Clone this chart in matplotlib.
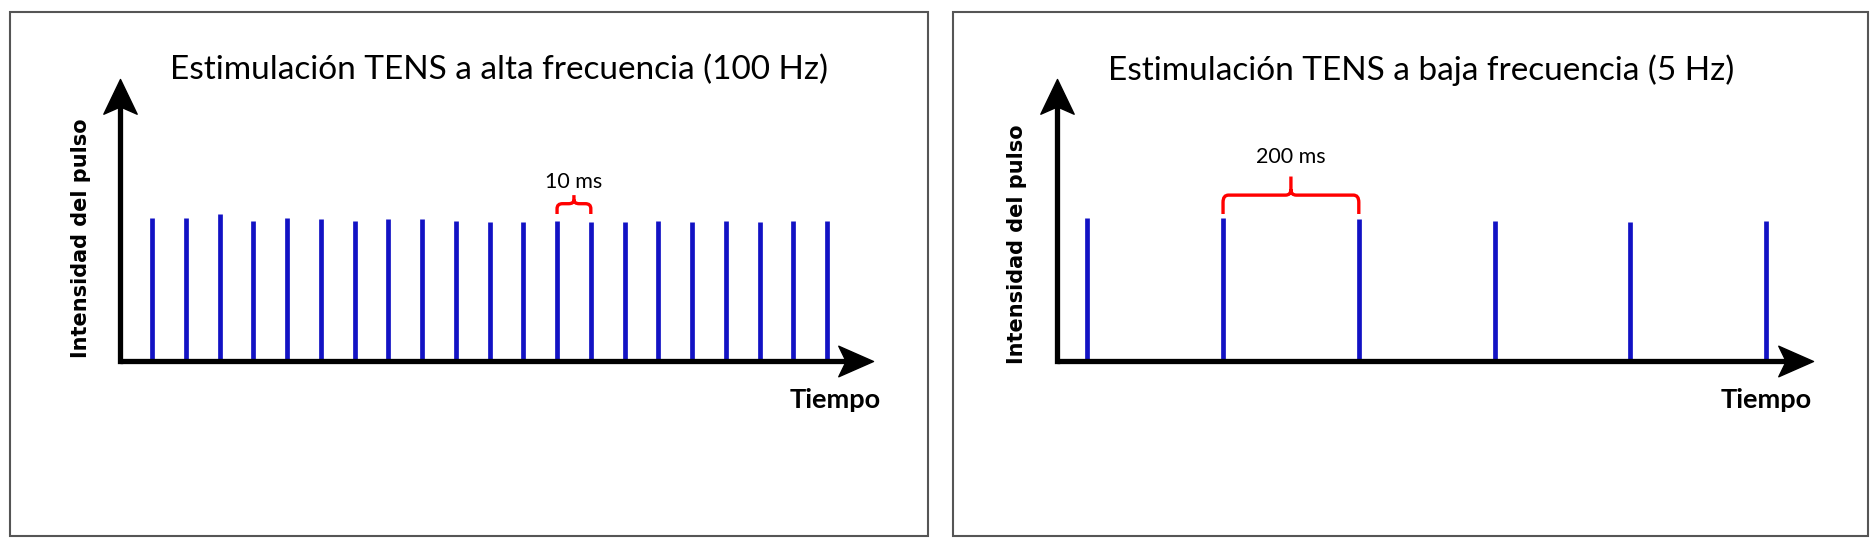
import matplotlib.pyplot as plt
from matplotlib.patches import Rectangle, PathPatch
from matplotlib.path import Path

# --- data (time in ms, relative pulse intensity) ---
high_freq_times = [0, 10, 20, 30, 40, 50, 60, 70, 80, 90, 100,
                   110, 120, 130, 140, 150, 160, 170, 180, 190, 200]
high_freq_heights = [1.00, 1.00, 1.03, 0.98, 1.00, 0.99, 0.98, 0.99, 0.99, 0.98, 0.97,
                     0.97, 0.98, 0.97, 0.97, 0.98, 0.97, 0.98, 0.97, 0.98, 0.98]
low_freq_times = [0, 200, 400, 600, 800, 1000]
low_freq_heights = [1.00, 1.00, 0.99, 0.98, 0.97, 0.98]

titles = ["Estimulación TENS a alta frecuencia (100 Hz)",
          "Estimulación TENS a baja frecuencia (5 Hz)"]
brace_labels = ["10 ms", "200 ms"]
brace_spans = [(120, 130), (200, 400)]
ylabel = "Intensidad del pulso"
xlabel = "Tiempo"

BLUE = "#1212c4"
RED = "#ff0000"
W, H = 1876, 548
YTOP = 1.972

# notched arrow heads, tip at the marker position
UP_HEAD = Path([(0, 0), (0.48, -1), (0.07, -0.82), (-0.07, -0.82), (-0.48, -1), (0, 0)],
               [Path.MOVETO] + [Path.LINETO] * 4 + [Path.CLOSEPOLY])
RIGHT_HEAD = Path([(0, 0), (-1, 0.44), (-0.82, 0.07), (-0.82, -0.07), (-1, -0.44), (0, 0)],
                  [Path.MOVETO] + [Path.LINETO] * 4 + [Path.CLOSEPOLY])


def px_rect(x0, y0, x1, y1):
    # pixel box (top-left origin) -> figure fraction [l, b, w, h]
    return [x0 / W, (H - y1) / H, (x1 - x0) / W, (y1 - y0) / H]


def brace(ax, x0, x1, yb, yt, ys, rx, ry):
    xm = (x0 + x1) / 2
    verts = [(x0, yb), (x0, yt - ry), (x0, yt), (x0 + rx, yt),
             (xm - rx, yt), (xm, yt), (xm, yt + ry * 0.8), (xm, ys),
             (xm, yt + ry * 0.8), (xm, yt), (xm + rx, yt),
             (x1 - rx, yt), (x1, yt), (x1, yt - ry), (x1, yb)]
    codes = [Path.MOVETO, Path.LINETO, Path.CURVE3, Path.CURVE3,
             Path.LINETO, Path.CURVE3, Path.CURVE3, Path.LINETO,
             Path.MOVETO, Path.CURVE3, Path.CURVE3,
             Path.LINETO, Path.CURVE3, Path.CURVE3, Path.LINETO]
    ax.add_patch(PathPatch(Path(verts, codes), fill=False, edgecolor=RED,
                           lw=2.4, clip_on=False, capstyle="butt"))


fig = plt.figure(figsize=(W / 100, H / 100), dpi=100)

panels = [
    dict(box=(10, 12, 928, 536), axes=(120, 79, 873, 361),
         xlim=(-9.48, 213.6), times=high_freq_times, heights=high_freq_heights,
         title_xy=(499, 70), ylab_xy=(81, 238), xlab_xy=(835, 400),
         brace=(1.028, 1.10, 1.16, 1.25, 1.6, 0.035)),
    dict(box=(953, 12, 1868, 536), axes=(1057, 79, 1813, 361),
         xlim=(-44.6, 1069.1), times=low_freq_times, heights=low_freq_heights,
         title_xy=(1421, 70), ylab_xy=(1017, 244), xlab_xy=(1766, 400),
         brace=(1.028, 1.16, 1.29, 1.43, 8.0, 0.05)),
]

for i, p in enumerate(panels):
    # panel border
    x0, y0, x1, y1 = p["box"]
    fig.add_artist(Rectangle((x0 / W, (H - y1) / H), (x1 - x0) / W, (y1 - y0) / H,
                             transform=fig.transFigure, fill=False,
                             edgecolor="#555555", lw=1.5))

    ax = fig.add_axes(px_rect(*p["axes"]))
    ax.set_xlim(*p["xlim"])
    ax.set_ylim(0, YTOP)
    ax.axis("off")

    # pulses
    ax.vlines(p["times"], 0, p["heights"], color=BLUE, lw=3.4, zorder=2)

    # axis lines, stopped short of the tips so the heads cover them
    xmin, xmax = p["xlim"]
    ax_w = p["axes"][2] - p["axes"][0]
    ax_h = p["axes"][3] - p["axes"][1]
    dx = 26 * (xmax - xmin) / ax_w
    dy = 26 * YTOP / ax_h
    ax.plot([xmin, xmax - dx], [0, 0], color="black", lw=3.8,
            solid_capstyle="butt", clip_on=False, zorder=3)
    ax.plot([xmin, xmin], [0, YTOP - dy], color="black", lw=3.8,
            solid_capstyle="projecting", clip_on=False, zorder=3)
    ax.plot([xmax], [0], marker=RIGHT_HEAD, markersize=50, color="black",
            clip_on=False, zorder=4)
    ax.plot([xmin], [YTOP], marker=UP_HEAD, markersize=50, color="black",
            clip_on=False, zorder=4)

    # brace with label
    yb, yt, ys, ytxt, rx, ry = p["brace"]
    bx0, bx1 = brace_spans[i]
    brace(ax, bx0, bx1, yb, yt, ys, rx, ry)
    ax.text((bx0 + bx1) / 2, ytxt, brace_labels[i], ha="center", va="center",
            fontsize=15.5, family="Lato", color="black")

    # texts
    tx, ty = p["title_xy"]
    fig.text(tx / W, 1 - ty / H, titles[i], ha="center", va="center",
             fontsize=24, family="Lato")
    lx, ly = p["ylab_xy"]
    fig.text(lx / W, 1 - ly / H, ylabel, ha="center", va="center",
             rotation=90, fontsize=15, fontweight="bold", family="DejaVu Sans")
    xx, xy = p["xlab_xy"]
    fig.text(xx / W, 1 - xy / H, xlabel, ha="center", va="center",
             fontsize=19.5, fontweight="bold", family="Lato")

plt.savefig("out.png", dpi=100)
